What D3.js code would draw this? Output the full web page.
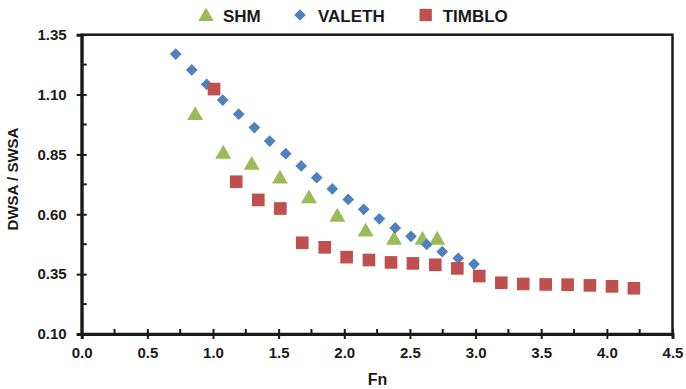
<!DOCTYPE html>
<html>
<head>
<meta charset="utf-8">
<script src="https://cdn.jsdelivr.net/npm/d3@7"></script>
<style>
    body { margin: 0; background: #fff; }
    text { font-family: "Liberation Sans", Arial, sans-serif; font-weight: bold; fill: #1a1a1a; }
</style>
</head>
<body>
<div id="chart"></div>
<script>
// Series data
var shmFn    = [0.864, 1.078, 1.295, 1.510, 1.731, 1.947, 2.163, 2.379, 2.596, 2.708];
var shmRatio = [1.020, 0.859, 0.813, 0.755, 0.673, 0.596, 0.534, 0.500, 0.499, 0.500];

var valethFn    = [0.716, 0.838, 0.952, 1.074, 1.196, 1.315, 1.432, 1.554, 1.672, 1.790,
                   1.909, 2.030, 2.148, 2.267, 2.388, 2.508, 2.628, 2.746, 2.868, 2.988];
var valethRatio = [1.269, 1.203, 1.143, 1.077, 1.018, 0.962, 0.906, 0.853, 0.802, 0.753,
                   0.706, 0.662, 0.621, 0.581, 0.543, 0.508, 0.474, 0.444, 0.416, 0.392];

var timbloFn    = [1.008, 1.177, 1.345, 1.513, 1.680, 1.851, 2.018, 2.188, 2.356, 2.523,
                   2.693, 2.861, 3.028, 3.196, 3.363, 3.534, 3.701, 3.871, 4.039, 4.206];
var timbloRatio = [1.123, 0.736, 0.660, 0.624, 0.481, 0.462, 0.421, 0.409, 0.399, 0.395,
                   0.389, 0.374, 0.342, 0.314, 0.309, 0.307, 0.306, 0.303, 0.299, 0.291];

var xTicks = [0, 0.5, 1, 1.5, 2, 2.5, 3, 3.5, 4, 4.5];
var yTicks = [0.10, 0.35, 0.60, 0.85, 1.10, 1.35];

var seriesNames = ["SHM", "VALETH", "TIMBLO"];
var seriesColors = ["#9bbb59", "#4f81bd", "#c0504d"];

function zipSeries(xs, ys) {
    return xs.map(function(x, i) { return { fn: x, ratio: ys[i] }; });
}

var series = [
    { name: "SHM", symbol: d3.symbolTriangle, size: 110, values: zipSeries(shmFn, shmRatio) },
    { name: "VALETH", symbol: d3.symbolDiamond2, size: 88, values: zipSeries(valethFn, valethRatio) },
    { name: "TIMBLO", symbol: d3.symbolSquare, size: 160, values: zipSeries(timbloFn, timbloRatio) }
];

var margin = { top: 34.7, right: 13.5, bottom: 55, left: 81.7 };
var totalW = 686, totalH = 389;
var width = totalW - margin.left - margin.right,
    height = totalH - margin.top - margin.bottom;

var svg = d3.select("#chart").append("svg")
    .attr("width", totalW)
    .attr("height", totalH);

var g = svg.append("g")
    .attr("transform", "translate(" + margin.left + "," + margin.top + ")");

var color = d3.scaleOrdinal().domain(seriesNames).range(seriesColors);

var x = d3.scaleLinear().domain([0, 4.5]).range([0, width]);
var y = d3.scaleLinear().domain([0.10, 1.35]).range([height, 0]);

// frame (top + right)
g.append("rect")
    .attr("x", 0).attr("y", 0)
    .attr("width", width).attr("height", height)
    .attr("fill", "none")
    .attr("stroke", "#1a1a1a")
    .attr("stroke-width", 2.5);

// minor ticks, inside only
var xMinor = d3.range(0.25, 4.5, 0.5);
var yMinor = d3.range(0.225, 1.35, 0.25);

g.selectAll(".x-minor").data(xMinor).enter().append("line")
    .attr("x1", function(d) { return x(d); }).attr("x2", function(d) { return x(d); })
    .attr("y1", height).attr("y2", height - 5)
    .attr("stroke", "#1a1a1a").attr("stroke-width", 2);

g.selectAll(".y-minor").data(yMinor).enter().append("line")
    .attr("y1", function(d) { return y(d); }).attr("y2", function(d) { return y(d); })
    .attr("x1", 0).attr("x2", 5)
    .attr("stroke", "#1a1a1a").attr("stroke-width", 2);

// axes
var xAxis = g.append("g")
    .attr("class", "x-axis")
    .attr("transform", "translate(0," + height + ")")
    .call(d3.axisBottom(x).tickValues(xTicks).tickSize(5).tickPadding(8)
        .tickFormat(d3.format(".1f")));

var yAxis = g.append("g")
    .attr("class", "y-axis")
    .call(d3.axisLeft(y).tickValues(yTicks).tickSize(5).tickPadding(10)
        .tickFormat(d3.format(".2f")));

[xAxis, yAxis].forEach(function(ax) {
    ax.select(".domain").attr("stroke", "#1a1a1a").attr("stroke-width", 3);
    ax.selectAll(".tick line").attr("stroke", "#1a1a1a").attr("stroke-width", 2);
    ax.selectAll(".tick text")
        .style("font-family", "'Liberation Sans', Arial, sans-serif")
        .style("font-weight", "bold")
        .style("font-size", "15px")
        .attr("fill", "#1a1a1a");
});
// major ticks cross the axis
xAxis.selectAll(".tick line").attr("y1", -5);
yAxis.selectAll(".tick line").attr("x1", 5);

// markers
var groups = g.selectAll(".series")
    .data(series)
    .enter().append("g")
    .attr("class", "series");

groups.selectAll("path")
    .data(function(s) {
        return s.values.map(function(v) { return { s: s, v: v }; });
    })
    .enter().append("path")
    .attr("d", function(d) { return d3.symbol().type(d.s.symbol).size(d.s.size)(); })
    .attr("transform", function(d) {
        var dy = d.s.name === "SHM" ? 1.8 : 0;
        return "translate(" + x(d.v.fn) + "," + (y(d.v.ratio) + dy) + ")";
    })
    .attr("fill", function(d) { return color(d.s.name); });

// axis titles
svg.append("text")
    .attr("x", margin.left + width / 2 + 0.5)
    .attr("y", 385)
    .attr("text-anchor", "middle")
    .style("font-size", "16px")
    .text("Fn");

svg.append("text")
    .attr("transform", "translate(18," + 179 + ") rotate(-90)")
    .attr("text-anchor", "middle")
    .style("font-size", "15px")
    .text("DWSA / SWSA");

// legend
var legendPos = [
    { sx: 206, tx: 223 },
    { sx: 300, tx: 318 },
    { sx: 425.7, tx: 442.7 }
];

var legend = svg.append("g").attr("class", "legend");

legend.selectAll("path")
    .data(series)
    .enter().append("path")
    .attr("d", function(d) { return d3.symbol().type(d.symbol).size(d.size * 0.95)(); })
    .attr("transform", function(d, i) {
        var dy = d.name === "SHM" ? 1.5 : 0;
        return "translate(" + legendPos[i].sx + "," + (15 + dy) + ")";
    })
    .attr("fill", function(d) { return color(d.name); });

legend.selectAll("text")
    .data(series)
    .enter().append("text")
    .attr("x", function(d, i) { return legendPos[i].tx; })
    .attr("y", 21.5)
    .style("font-size", "17px")
    .text(function(d) { return d.name; });
</script>
</body>
</html>
